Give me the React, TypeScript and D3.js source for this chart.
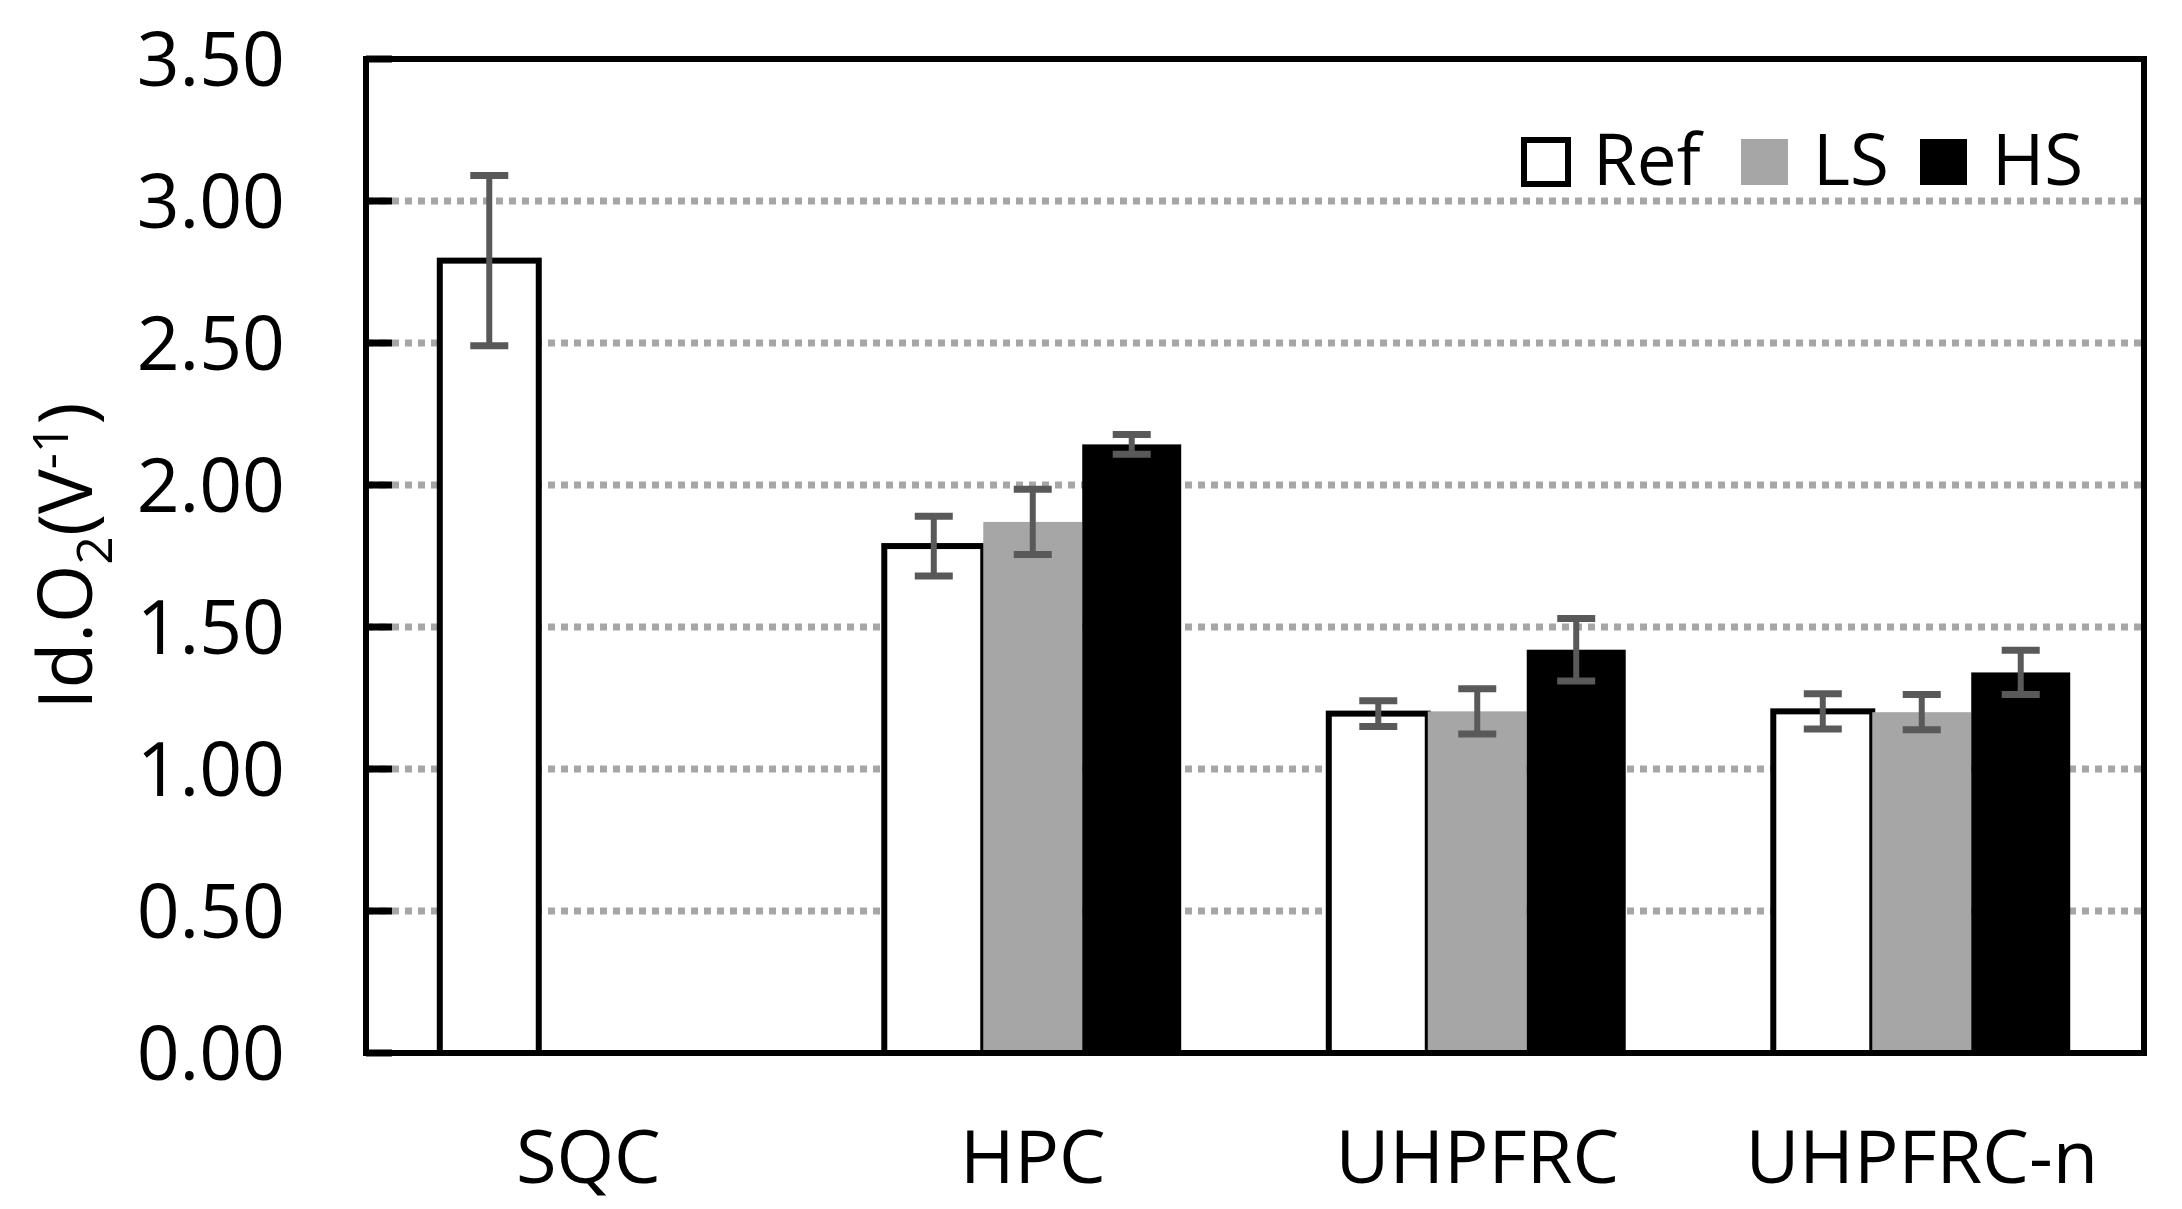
import React, { useMemo } from 'react';
import * as d3 from 'd3';

// categories and series
const categories = ['SQC', 'HPC', 'UHPFRC', 'UHPFRC-n'];
const seriesNames = ['Ref', 'LS', 'HS'];

// mean values (null = no bar)
const refValues = [2.79, 1.785, 1.195, 1.203];
const lsValues = [null, 1.87, 1.203, 1.2];
const hsValues = [null, 2.143, 1.42, 1.34];

// error bar half-widths
const refErrors = [0.3, 0.105, 0.045, 0.062];
const lsErrors = [null, 0.115, 0.08, 0.062];
const hsErrors = [null, 0.035, 0.11, 0.078];

const yTicks = [0, 0.5, 1, 1.5, 2, 2.5, 3, 3.5];

const W = 2182;
const H = 1209;
const plot = { left: 366, right: 2144, top: 59, bottom: 1053 };
const FONT = '"Open Sans", "Noto Sans", sans-serif';
const fills: Record<string, string> = { Ref: '#ffffff', LS: '#a6a6a6', HS: '#000000' };

export default function App() {
  const x0 = useMemo(
    () =>
      d3.scaleBand<string>()
        .domain(categories)
        .range([plot.left, plot.right])
        .paddingInner(0.332)
        .paddingOuter(0.166),
    []
  );
  const x1 = useMemo(
    () => d3.scaleBand<string>().domain(seriesNames).range([0, x0.bandwidth()]),
    [x0]
  );
  const y = useMemo(
    () => d3.scaleLinear().domain([0, 3.5]).range([plot.bottom, plot.top]),
    []
  );
  const fmt = d3.format('.2f');

  const series = [
    { name: 'Ref', values: refValues, errors: refErrors },
    { name: 'LS', values: lsValues, errors: lsErrors },
    { name: 'HS', values: hsValues, errors: hsErrors },
  ];

  const legendItems = [
    { name: 'Ref', x: 1521 },
    { name: 'LS', x: 1741 },
    { name: 'HS', x: 1920 },
  ];

  return (
    <svg
      width={W}
      height={H}
      style={{ position: 'absolute', left: 0, top: 0, background: '#fff' }}
      fontFamily={FONT}
    >
      {/* gridlines */}
      {yTicks.filter(t => t > 0 && t < 3.5).map(t => (
        <line
          key={`g${t}`}
          x1={plot.left}
          x2={plot.right}
          y1={y(t)}
          y2={y(t)}
          stroke="#a6a6a6"
          strokeWidth={7}
          strokeDasharray="7 6"
        />
      ))}

      {/* bars */}
      {series.map(s =>
        categories.map((c, i) => {
          const v = s.values[i];
          if (v == null) return null;
          const bx = (x0(c) ?? 0) + (x1(s.name) ?? 0);
          const isRef = s.name === 'Ref';
          return (
            <rect
              key={`${s.name}-${c}`}
              x={bx}
              y={y(v)}
              width={x1.bandwidth()}
              height={y(0) - y(v)}
              fill={fills[s.name]}
              stroke={isRef ? '#000' : 'none'}
              strokeWidth={isRef ? 6 : 0}
            />
          );
        })
      )}

      {/* error bars */}
      {series.map(s =>
        categories.map((c, i) => {
          const v = s.values[i];
          const e = s.errors[i];
          if (v == null || e == null) return null;
          const cx = (x0(c) ?? 0) + (x1(s.name) ?? 0) + x1.bandwidth() / 2;
          const capW = 19;
          return (
            <g key={`e-${s.name}-${c}`} stroke="#595959" strokeWidth={6}>
              <line x1={cx} x2={cx} y1={y(v + e)} y2={y(v - e)} />
              <line x1={cx - capW} x2={cx + capW} y1={y(v + e)} y2={y(v + e)} strokeWidth={7} />
              <line x1={cx - capW} x2={cx + capW} y1={y(v - e)} y2={y(v - e)} strokeWidth={7} />
            </g>
          );
        })
      )}

      {/* frame */}
      <rect
        x={plot.left}
        y={plot.top}
        width={plot.right - plot.left}
        height={plot.bottom - plot.top}
        fill="none"
        stroke="#000"
        strokeWidth={6}
      />

      {/* y ticks and labels */}
      {yTicks.map(t => (
        <g key={`t${t}`}>
          <line x1={plot.left} x2={plot.left + 26} y1={y(t)} y2={y(t)} stroke="#000" strokeWidth={7} />
          <text
            x={285}
            y={y(t)}
            dy="0.36em"
            textAnchor="end"
            fontSize={75}
            fill="#000"
          >
            {fmt(t)}
          </text>
        </g>
      ))}

      {/* x labels */}
      {categories.map(c => (
        <text
          key={`x-${c}`}
          x={(x0(c) ?? 0) + x0.bandwidth() / 2}
          y={1183}
          textAnchor="middle"
          fontSize={74}
          fill="#000"
        >
          {c}
        </text>
      ))}

      {/* y axis title */}
      <text
        transform={`translate(92, ${(plot.top + plot.bottom) / 2}) rotate(-90)`}
        textAnchor="middle"
        fontSize={75}
        fill="#000"
      >
        Id.O
        <tspan fontSize={50} dy={20}>2</tspan>
        <tspan dy={-20}>(V</tspan>
        <tspan fontSize={50} dy={-24}>-1</tspan>
        <tspan dy={24}>)</tspan>
      </text>

      {/* legend */}
      {legendItems.map(item => (
        <g key={`l-${item.name}`}>
          {item.name === 'Ref' ? (
            <rect x={item.x + 3} y={140} width={44} height={44} fill="#fff" stroke="#000" strokeWidth={6} />
          ) : (
            <rect x={item.x} y={139} width={47} height={46} fill={fills[item.name]} />
          )}
          <text x={item.x + 72} y={185} fontSize={71} fill="#000">
            {item.name}
          </text>
        </g>
      ))}
    </svg>
  );
}
